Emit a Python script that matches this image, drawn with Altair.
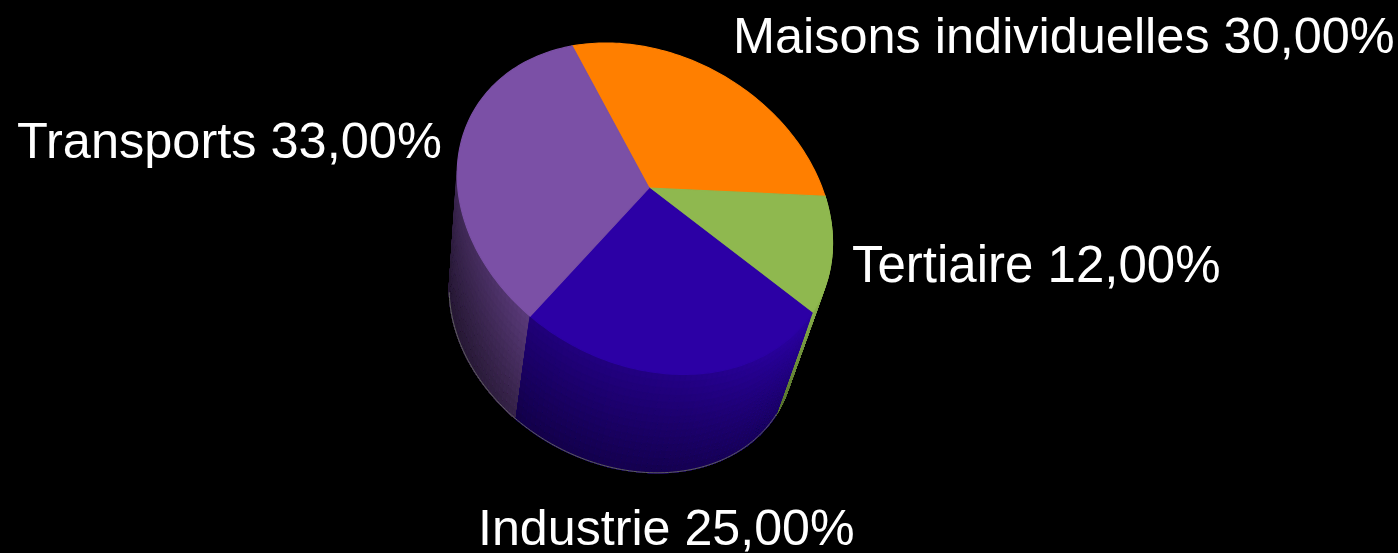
import numpy as np
import altair as alt

# Data
categories = ["Maisons individuelles", "Tertiaire", "Industrie", "Transports"]
shares = [30, 12, 25, 33]
share_text = ["30,00%", "12,00%", "25,00%", "33,00%"]
colors = ["#FF7F00", "#8FB84F", "#2C00A5", "#7B50A6"]

# Page layout and camera of the 3D view (page pixels)
label_x = [733, 852, 478, 17]
label_y = [53, 282, 545, 158]
label_size = [50.45, 51, 50.2, 50.5]
rim_points = [(572, 46), (825, 196), (812, 313), (530, 316)]
apex = (649, 188)
vanish = (361, 1574)
depth = 0.082


def homography(src, dst):
    rows = []
    for (x, y), (u, v) in zip(src, dst):
        rows.append([x, y, 1, 0, 0, 0, -u * x, -u * y, -u])
        rows.append([0, 0, 0, x, y, 1, -v * x, -v * y, -v])
    return np.linalg.svd(np.array(rows))[2][-1].reshape(3, 3)


edges = 2 * np.pi * np.cumsum([0] + shares) / sum(shares)
src = [(np.cos(a), np.sin(a)) for a in edges[:4]] + [(0, 0)]
H = homography(src, rim_points + [apex])


def top(t):
    p = H @ np.array([np.cos(t), np.sin(t), np.ones_like(t)])
    return np.array([p[0] / p[2], p[1] / p[2]])


def at(t, z):
    p = top(t)
    v = np.array(vanish, dtype=float).reshape(2, *([1] * (p.ndim - 1)))
    return p + depth * z * (v - p)


def feature(pts, fill):
    c = [[float(x), float(y)] for x, y in pts]
    c.append(c[0])
    return {"type": "Feature", "properties": {"fill": fill},
            "geometry": {"type": "Polygon", "coordinates": [c]}}


def shade(hex_color, f):
    rgb = [int(hex_color[i:i + 2], 16) for i in (1, 3, 5)]
    return "#%02x%02x%02x" % tuple(int(min(255, c * f)) for c in rgb)


# Side wall: green first, then purple, blue last. Each band reaches down to the
# bottom rim and the next band paints over it, so no seams show between bands.
side, bands = [], 14
for i in (1, 3, 2):
    n = max(2, int((edges[i + 1] - edges[i]) / np.radians(1.5)))
    ts = np.linspace(edges[i], edges[i + 1], n + 1)
    for a, b in zip(ts[:-1], ts[1:]):
        if top((a + b) / 2)[1] < 170:  # behind the top face
            continue
        for k in range(bands):
            z0, z1 = k / bands, (k + 1) / bands
            mid = at((a + b) / 2, (z0 + z1) / 2)
            g = np.interp(mid[0], [450, 470, 525, 680, 790], [.5, .56, .74, .82, .96])
            f = g * (1 - 0.4 * (z0 + z1) / 2)
            quad = [at(a, z0), at(b, z0), at(b, 1), at(a, 1)]
            side.append(feature([tuple(q) for q in quad], shade(colors[i], f)))

tops = []
for i in range(4):
    ts = np.linspace(edges[i], edges[i + 1], 90)
    rim = top(ts).T
    tops.append(feature([apex] + [tuple(p) for p in rim], colors[i]))

ts = np.linspace(edges[2] - 0.02, edges[4] - 1.25, 120)
rim_line = [{"type": "Feature", "properties": {},
             "geometry": {"type": "LineString",
                          "coordinates": [[float(x), float(y)] for x, y in at(ts, 1).T]}}]

proj = alt.Projection(type="identity", scale=1, translate=[0, 0]).to_dict()


def polys(features):
    return alt.Chart(alt.Data(values=features)).mark_geoshape(strokeWidth=1.1).encode(
        fill=alt.Fill("properties.fill:N", scale=None),
        stroke=alt.Stroke("properties.fill:N", scale=None),
    ).project(**proj)


outline = alt.Chart(alt.Data(values=rim_line)).mark_geoshape(
    filled=False, stroke="#5e5e5e", strokeWidth=1
).project(**proj)

labels = [{"label": f"{c} {s}", "x": x, "y": y, "size": z}
          for c, s, x, y, z in zip(categories, share_text, label_x, label_y, label_size)]
text = alt.Chart(alt.Data(values=labels)).mark_text(
    font="Liberation Sans", color="white", align="left", baseline="alphabetic"
).encode(
    x=alt.X("x:Q", scale=None), y=alt.Y("y:Q", scale=None),
    size=alt.Size("size:Q", scale=None), text="label:N"
)

chart = alt.layer(polys(side), outline, polys(tops), text).properties(
    width=1398, height=553, background="black", padding=0,
    autosize=alt.AutoSizeParams(type="none"),
).configure_view(stroke=None)

chart.save("out.html", embed_options={"renderer": "svg", "actions": False})

# The chart fills the whole page: no margin, black behind it
with open("out.html", encoding="utf-8") as fh:
    html = fh.read()
with open("out.html", "w", encoding="utf-8") as fh:
    fh.write(html.replace("</head>", "<style>html,body{margin:0;background:#000;overflow:hidden}</style></head>", 1))
